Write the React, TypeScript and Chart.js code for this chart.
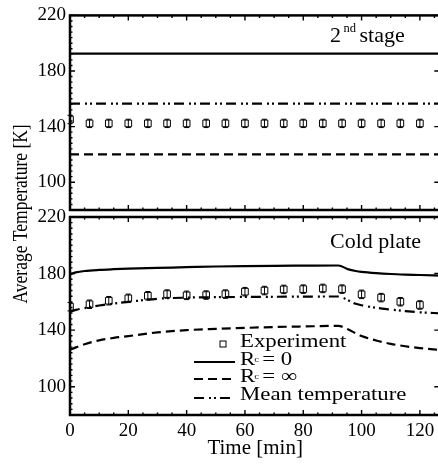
import React, { useEffect, useRef } from 'react';
import { Chart, registerables } from 'chart.js';

Chart.register(...registerables);

// ---------------- data ----------------
const expTime = [0, 6.7, 13.3, 20, 26.7, 33.3, 40, 46.7, 53.3, 60, 66.7, 73.3, 80, 86.7, 93.3, 100, 106.7, 113.3, 120];

// 2nd stage (top panel)
const stageExp = [145.1, 142.3, 142.3, 142.3, 142.3, 142.3, 142.3, 142.3, 142.3, 142.3, 142.3, 142.3, 142.3, 142.3, 142.3, 142.3, 142.3, 142.3, 142.3];
const stageErr = [3, 3, 3, 3, 3, 3, 3, 3, 3, 3, 3, 3, 3, 3, 3, 3, 3, 3, 3];
const stageModelTime = [0, 127];
const stageRc0 = [192.5, 192.5];
const stageRcInf = [120, 120];
const stageMean = [156.6, 156.6];

// Cold plate (bottom panel)
const plateExp = [156.6, 158.3, 160.8, 162.5, 164.3, 165.5, 164.6, 164.8, 165.5, 167.2, 168, 168.8, 169, 169.5, 169, 165.3, 163, 160.1, 157.8];
const plateErr = [3, 3, 3, 3, 3, 3, 3, 3, 3, 3, 3, 3, 3, 3, 3, 3, 3, 3, 3];
const plateModelTime = [0, 2, 5, 10, 15, 20, 30, 40, 50, 60, 70, 80, 92, 95.5, 98, 100, 105, 110, 115, 120, 127];
const plateRc0 = [179.5, 180.8, 181.8, 182.6, 183.1, 183.5, 184, 184.5, 185, 185.3, 185.5, 185.6, 185.7, 183, 181.8, 181.2, 180.3, 179.7, 179.3, 179, 178.5];
const plateRcInf = [126, 127.8, 130, 132.8, 134.5, 135.8, 138.4, 140, 140.9, 141.6, 142.2, 142.6, 143, 140.4, 137.8, 135.8, 132.7, 130.3, 128.6, 127.3, 125.9];
const plateMean = [153, 154.3, 155.6, 157.4, 158.8, 160, 162.2, 163, 163.3, 163.5, 163.6, 163.7, 163.8, 161, 158.6, 157.6, 155.8, 154.6, 153.5, 152.6, 151.9];

// axes
const xMin = 0;
const xMax = 127;
const yMin = 80;
const yMax = 220;
const xTickValues = [0, 20, 40, 60, 80, 100, 120];
const yTickValues = [100, 140, 180, 220];

// legend labels
const legendLabels = ['Experiment', 'R', '= 0', '= \u221E', 'Mean temperature'];

// ---------------- styles ----------------
const FONT = '"Liberation Serif", "Times New Roman", Times, serif';
const DASHED = [9, 5];
const DASH_DOT_DOT = [10, 5, 2, 3, 2, 4];
const LINE_W = 2.2;
const CANVAS_W = 446;

function pts(xs: number[], ys: number[]) {
  return xs.map((x, i) => ({ x, y: ys[i] }));
}

function drawText(ctx: CanvasRenderingContext2D, text: string, x: number, y: number, size: number, sx = 1, align: CanvasTextAlign = 'left') {
  ctx.save();
  ctx.font = `${size}px ${FONT}`;
  ctx.textAlign = align;
  ctx.textBaseline = 'alphabetic';
  ctx.fillStyle = '#000';
  ctx.translate(x, y);
  ctx.scale(sx, 1);
  ctx.fillText(text, 0, 0);
  const w = ctx.measureText(text).width * sx;
  ctx.restore();
  return w;
}

const framePlugin = {
  id: 'frameTicks',
  afterDraw(chart: any) {
    const { ctx, chartArea: a, scales } = chart;
    const xs = scales.x;
    const ys = scales.y;
    ctx.save();
    ctx.strokeStyle = '#000';
    ctx.lineWidth = 1.4;
    ctx.setLineDash([]);
    ctx.beginPath();
    for (let v = xMin; v <= xMax; v += 5) {
      const px = xs.getPixelForValue(v);
      const len = v % 20 === 0 ? 5 : 2.5;
      ctx.moveTo(px, a.top);
      ctx.lineTo(px, a.top + len);
      ctx.moveTo(px, a.bottom);
      ctx.lineTo(px, a.bottom - len);
    }
    for (let v = yMin; v <= yMax; v += 4) {
      const py = ys.getPixelForValue(v);
      const major = (v - 100) % 40 === 0;
      const len = major ? 5 : 2.5;
      ctx.moveTo(a.left, py);
      ctx.lineTo(a.left + len, py);
      if (major) {
        ctx.moveTo(a.right, py);
        ctx.lineTo(a.right - len - 1, py);
      }
    }
    ctx.stroke();
    ctx.lineWidth = 2.5;
    ctx.strokeRect(a.left, a.top, a.right - a.left, a.bottom - a.top);
    ctx.restore();
  },
};

function errorBarPlugin(times: number[], values: number[], errs: number[]) {
  return {
    id: 'errorBars',
    afterDatasetsDraw(chart: any) {
      const { ctx, scales } = chart;
      ctx.save();
      ctx.strokeStyle = '#000';
      ctx.lineWidth = 1;
      ctx.setLineDash([]);
      ctx.beginPath();
      times.forEach((t, i) => {
        const px = scales.x.getPixelForValue(t);
        const top = scales.y.getPixelForValue(values[i] + errs[i]);
        const bot = scales.y.getPixelForValue(values[i] - errs[i]);
        ctx.moveTo(px, top);
        ctx.lineTo(px, bot);
        ctx.moveTo(px - 2.5, top);
        ctx.lineTo(px + 2.5, top);
        ctx.moveTo(px - 2.5, bot);
        ctx.lineTo(px + 2.5, bot);
      });
      ctx.stroke();
      ctx.restore();
    },
  };
}

const topTextPlugin = {
  id: 'topText',
  afterDraw(chart: any) {
    const { ctx, chartArea: a } = chart;
    const l = a.left;
    // "2nd stage"
    drawText(ctx, '2', l + 260, a.top + 26.7, 22);
    drawText(ctx, 'nd', l + 273.5, a.top + 17, 12.5);
    drawText(ctx, 'stage', l + 289.5, a.top + 26.7, 22);
    // shared y axis title
    ctx.save();
    ctx.font = `17.5px ${FONT}`;
    ctx.fillStyle = '#000';
    ctx.textAlign = 'center';
    ctx.textBaseline = 'middle';
    ctx.translate(21, a.top + 198.5);
    ctx.rotate(-Math.PI / 2);
    ctx.scale(1, 1.25);
    ctx.fillText('Average Temperature [K]', 0, 0);
    ctx.restore();
  },
};

const bottomTextPlugin = {
  id: 'bottomText',
  afterDraw(chart: any) {
    const { ctx, chartArea: a } = chart;
    drawText(ctx, 'Cold plate', a.left + 260, a.top + 31, 22);

    const lx0 = a.left + 124;
    const lx1 = a.left + 165;
    const tx = a.left + 170;
    const b = a.bottom;
    const fs = 19;
    const sx = 1.2;

    ctx.save();
    ctx.strokeStyle = '#000';
    // Experiment marker
    ctx.lineWidth = 1;
    ctx.setLineDash([]);
    ctx.strokeRect(lx1 - 15, b - 74, 6, 6);
    // lines
    ctx.lineWidth = LINE_W;
    ctx.beginPath();
    ctx.moveTo(lx0, b - 53);
    ctx.lineTo(lx1, b - 53);
    ctx.stroke();
    ctx.setLineDash(DASHED);
    ctx.beginPath();
    ctx.moveTo(lx0, b - 36);
    ctx.lineTo(lx1, b - 36);
    ctx.stroke();
    ctx.setLineDash(DASH_DOT_DOT);
    ctx.beginPath();
    ctx.moveTo(lx0, b - 17);
    ctx.lineTo(lx1, b - 17);
    ctx.stroke();
    ctx.restore();

    drawText(ctx, legendLabels[0], tx, b - 67.7, fs, sx);
    // R_c = 0
    let w = drawText(ctx, legendLabels[1], tx, b - 50, fs, sx);
    drawText(ctx, 'c', tx + w - 1, b - 53, 9, sx);
    drawText(ctx, legendLabels[2], tx + w + 7, b - 50, fs, sx);
    // R_c = inf
    w = drawText(ctx, legendLabels[1], tx, b - 33.3, fs, sx);
    drawText(ctx, 'c', tx + w - 1, b - 36.3, 9, sx);
    drawText(ctx, legendLabels[3], tx + w + 7, b - 33.3, fs, sx);
    drawText(ctx, legendLabels[4], tx, b - 15, fs, sx);
  },
};

function lineDataset(xs: number[], ys: number[], dash: number[]) {
  return {
    data: pts(xs, ys),
    borderColor: '#000',
    borderWidth: LINE_W,
    borderDash: dash,
    pointRadius: 0,
    fill: false,
    cubicInterpolationMode: 'monotone' as const,
  };
}

function expDataset(xs: number[], ys: number[]) {
  return {
    data: pts(xs, ys),
    showLine: false,
    pointStyle: 'rect' as const,
    pointRadius: 4.7,
    pointBorderWidth: 1,
    pointBorderColor: '#000',
    pointBackgroundColor: 'rgba(0,0,0,0)',
    borderColor: '#000',
  };
}

function yScale() {
  return {
    type: 'linear' as const,
    min: yMin,
    max: yMax,
    grid: { display: false, drawTicks: false },
    border: { display: false },
    ticks: { color: '#000', font: { family: FONT, size: 19 }, padding: 4 },
    afterBuildTicks: (s: any) => {
      s.ticks = yTickValues.map((v) => ({ value: v }));
    },
    afterFit: (s: any) => {
      s.width = 70;
    },
  };
}

export default function App() {
  const topRef = useRef<HTMLCanvasElement>(null);
  const botRef = useRef<HTMLCanvasElement>(null);

  useEffect(() => {
    const top = new Chart(topRef.current!, {
      type: 'line',
      data: {
        datasets: [
          lineDataset(stageModelTime, stageRc0, []),
          lineDataset(stageModelTime, stageRcInf, DASHED),
          lineDataset(stageModelTime, stageMean, DASH_DOT_DOT),
          expDataset(expTime, stageExp),
        ],
      },
      options: {
        responsive: false,
        animation: false,
        layout: { padding: { top: 14, bottom: 254, left: 0, right: 2 } },
        plugins: { legend: { display: false }, tooltip: { enabled: false } },
        scales: {
          x: { type: 'linear', min: xMin, max: xMax, display: false },
          y: yScale(),
        },
      },
      plugins: [errorBarPlugin(expTime, stageExp, stageErr), framePlugin, topTextPlugin],
    } as any);

    const bottom = new Chart(botRef.current!, {
      type: 'line',
      data: {
        datasets: [
          lineDataset(plateModelTime, plateRc0, []),
          lineDataset(plateModelTime, plateRcInf, DASHED),
          lineDataset(plateModelTime, plateMean, DASH_DOT_DOT),
          expDataset(expTime, plateExp),
        ],
      },
      options: {
        responsive: false,
        animation: false,
        layout: { padding: { top: 217, bottom: 0, left: 0, right: 2 } },
        plugins: { legend: { display: false }, tooltip: { enabled: false } },
        scales: {
          x: {
            type: 'linear',
            min: xMin,
            max: xMax,
            grid: { display: false, drawTicks: false },
            border: { display: false },
            ticks: { color: '#000', font: { family: FONT, size: 19 }, padding: 5, maxRotation: 0 },
            afterBuildTicks: (s: any) => {
              s.ticks = xTickValues.map((v) => ({ value: v }));
            },
            afterFit: (s: any) => {
              s.height = 49;
            },
            title: {
              display: true,
              text: 'Time [min]',
              color: '#000',
              font: { family: FONT, size: 21 },
              padding: { top: 0, bottom: 3 },
            },
          },
          y: yScale(),
        },
      },
      plugins: [errorBarPlugin(expTime, plateExp, plateErr), framePlugin, bottomTextPlugin],
    } as any);

    return () => {
      top.destroy();
      bottom.destroy();
    };
  }, []);

  return (
    <div style={{ position: 'fixed', left: 0, top: 0, width: 438, height: 464, overflow: 'hidden', background: '#fff' }}>
      <canvas ref={topRef} width={CANVAS_W} height={464} style={{ position: 'absolute', left: 0, top: 0 }} />
      <canvas ref={botRef} width={CANVAS_W} height={464} style={{ position: 'absolute', left: 0, top: 0 }} />
    </div>
  );
}
